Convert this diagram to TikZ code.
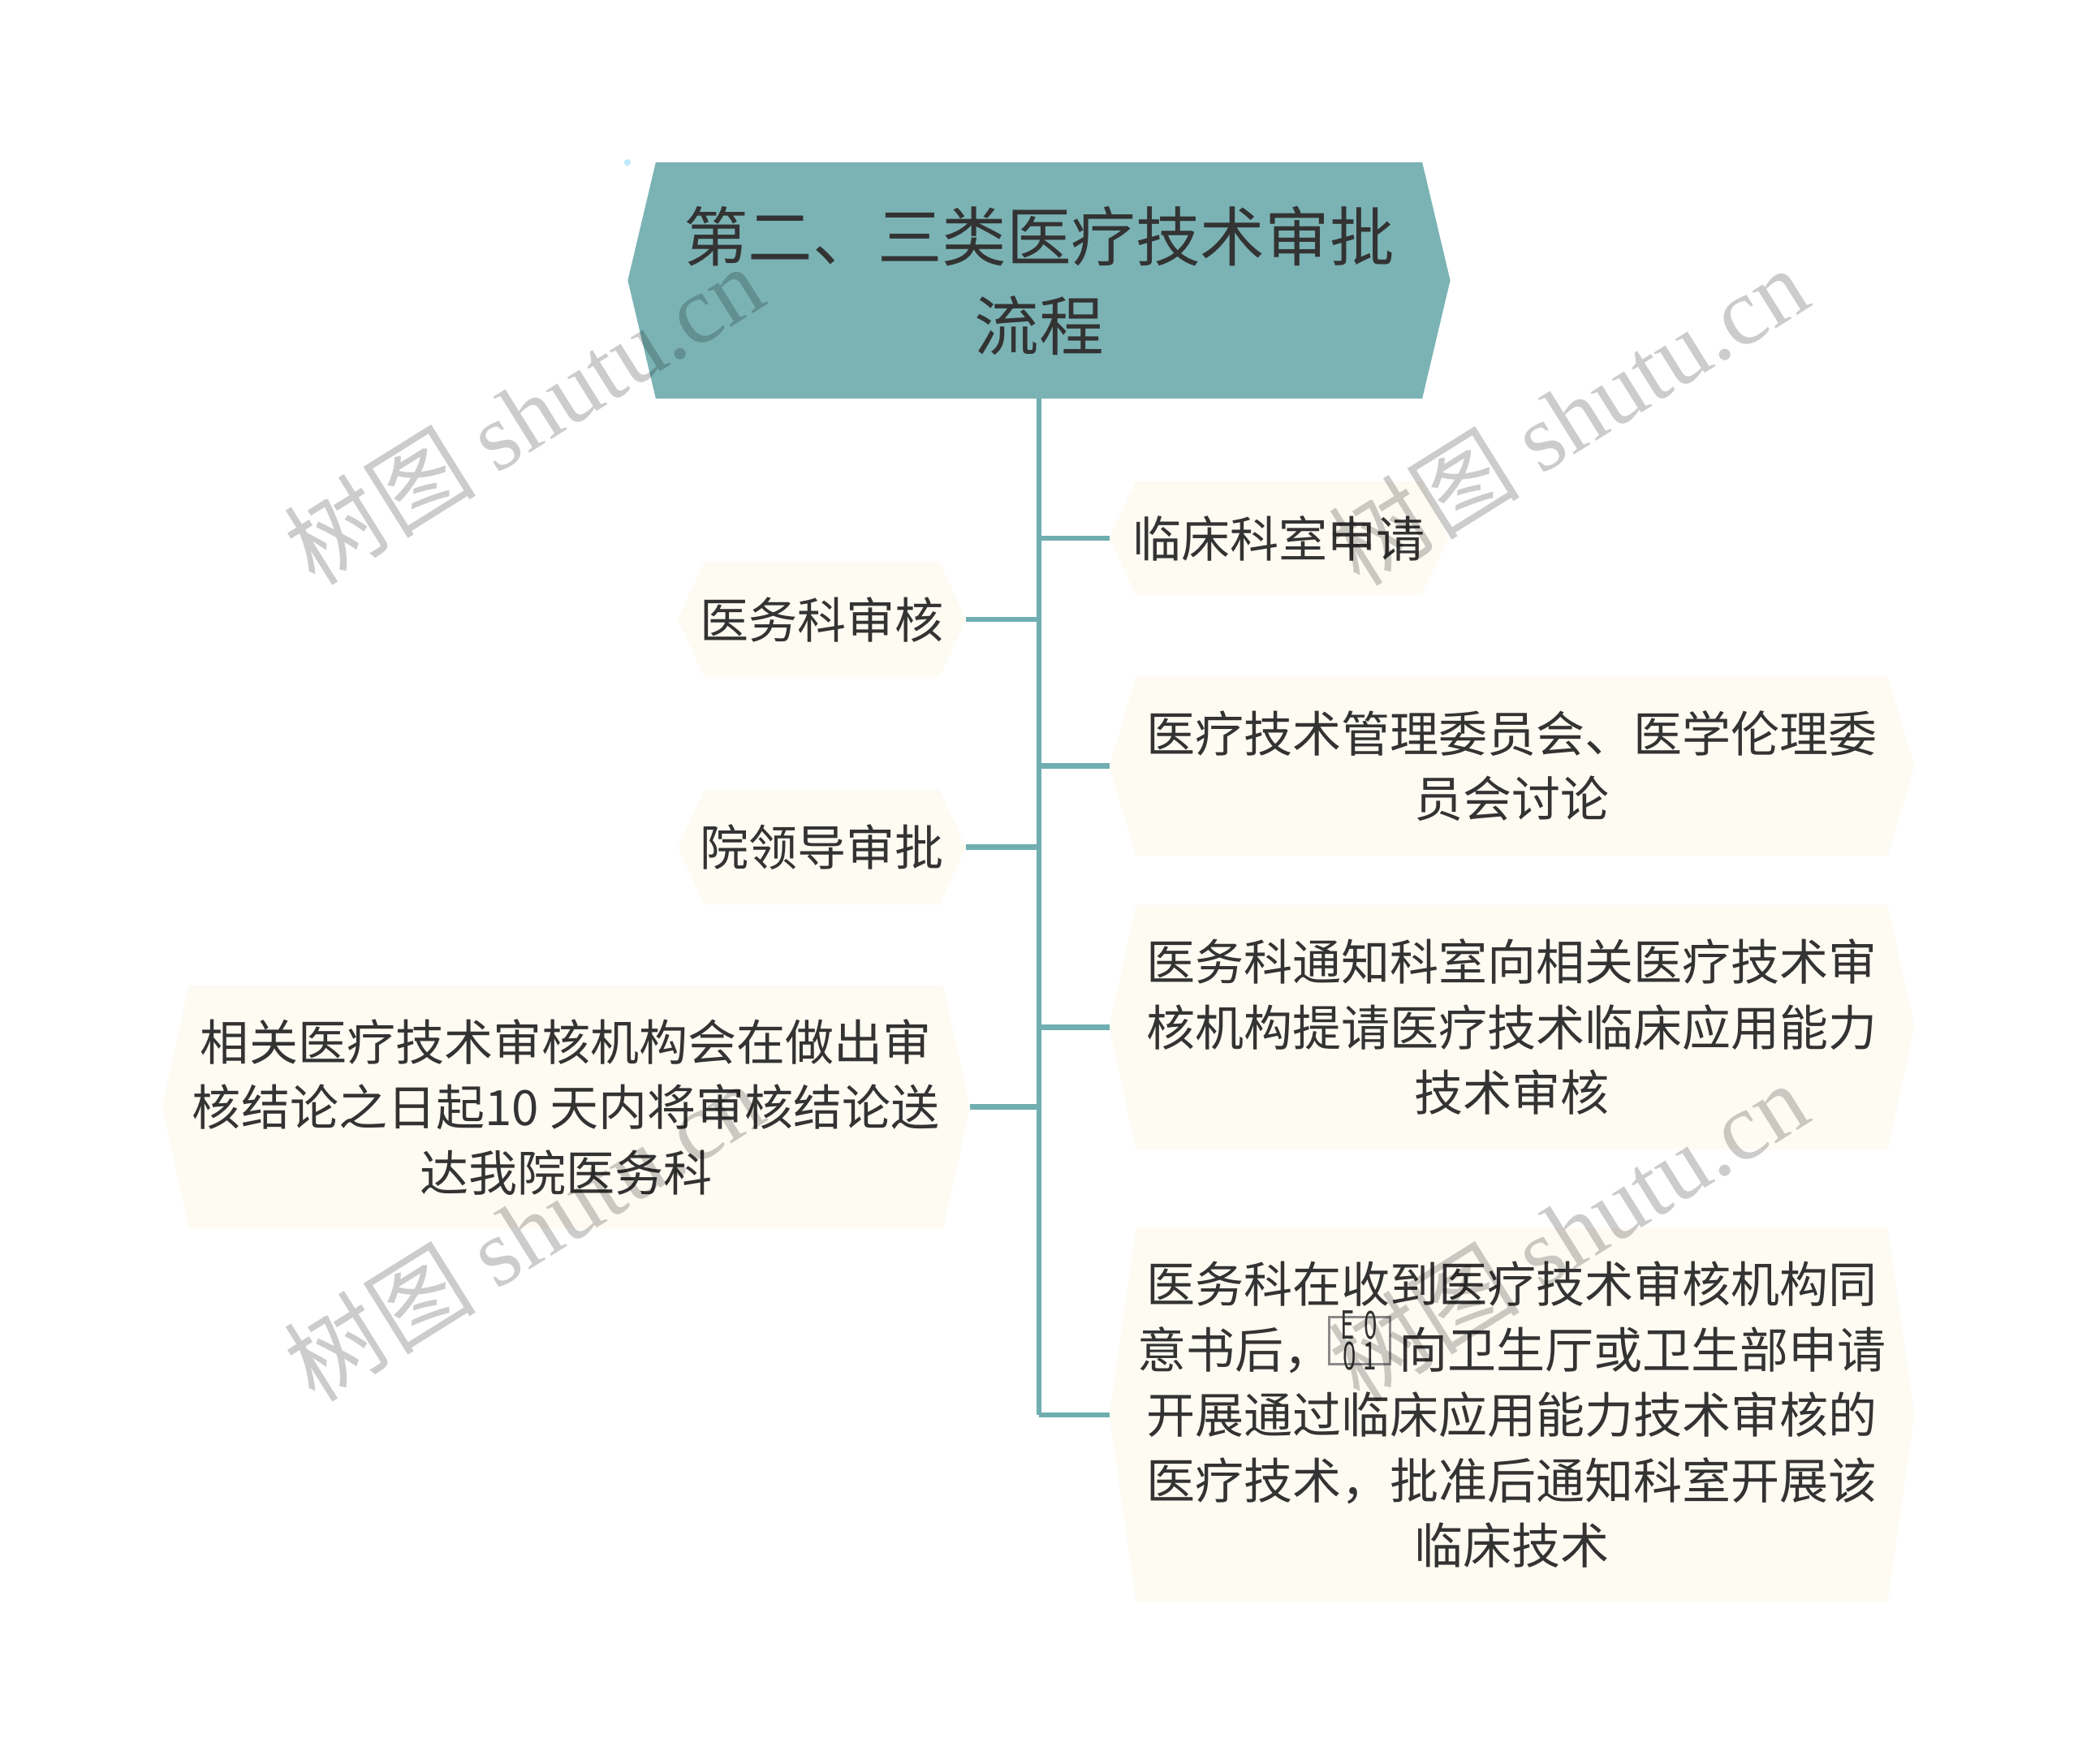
\documentclass[tikz,border=0pt]{standalone}
\usepackage{fontspec}
\usepackage{graphicx}
\setmainfont{Noto Sans CJK SC}
\newfontfamily\wmlatin{Liberation Serif}
\usetikzlibrary{backgrounds,calc}
\definecolor{rootfill}{HTML}{7BB3B5}
\definecolor{linecol}{HTML}{70AEB1}
\definecolor{cream}{HTML}{FDFBF2}
\definecolor{txt}{HTML}{333333}
\definecolor{tofugray}{HTML}{8A8A8A}
\newcommand\hexfill[3]{\fill[#3] (#1.west) -- ($(#1.north west)+(#2,0)$) -- ($(#1.north east)+(-#2,0)$) -- (#1.east) -- ($(#1.south east)+(-#2,0)$) -- ($(#1.south west)+(#2,0)$) -- cycle;}
\newcommand\tofudigit[1]{\fontsize{29}{29}\selectfont\scalebox{0.62}[1]{#1}}
\newcommand\tofubox{{\setlength\unitlength{1pt}\begin{picture}(50,39)
  {\color{tofugray}%
   \put(-3,2){\rule{47pt}{1.8pt}}%
   \put(-3,37.2){\rule{47pt}{1.8pt}}%
   \put(-3,2){\rule{1.8pt}{37pt}}%
   \put(42.2,2){\rule{1.8pt}{37pt}}}%
  \put(6,22){\tofudigit{E}}%
  \put(24,22){\tofudigit{0}}%
  \put(8,-1){\tofudigit{0}}%
  \put(23,-1){\tofudigit{1}}%
\end{picture}}}
\begin{document}
\begin{tikzpicture}[x=1pt,y=-1pt,
  childbox/.style={rectangle, inner sep=0pt, align=center, text=txt, font=\fontsize{36.6}{49}\selectfont},
  rootbox/.style={rectangle, inner sep=0pt, align=center, text=txt, font=\fontsize{48.5}{67}\selectfont},
  conn/.style={draw=linecol, line width=4pt},
  wmark/.style={text=black, text opacity=0.2, rotate=32, inner sep=0pt, font=\fontsize{72}{74}\selectfont}]
\useasboundingbox (0,0) rectangle (1560,1324);

% root
\node[rootbox, minimum width=617, minimum height=177] (root) at (780,210.5) {第二、三类医疗技术审批\\流程};

% right children
\node[childbox, minimum width=254, minimum height=85] (r1) at (960,404) {临床科室申请};
\node[childbox, minimum width=604, minimum height=134] (r2) at (1135,575) {医疗技术管理委员会、医学伦理委\\员会讨论};
\node[childbox, minimum width=604, minimum height=183] (r3) at (1135,771) {医务科通知科室向相关医疗技术审\\核机构提请医疗技术临床应用能力\\技术审核};
\node[childbox, minimum width=604, minimum height=280] (r4) at (1135,1062) {医务科在收到医疗技术审核机构同\\意书后，\tofubox 向卫生厅或卫生部申请\\开展通过临床应用能力技术审核的\\医疗技术，批准后通知科室开展该\\临床技术};

% left children
\node[childbox, minimum width=216, minimum height=86] (l1) at (617,465) {医务科审核};
\node[childbox, minimum width=216, minimum height=86] (l2) at (617,636) {院领导审批};
\node[childbox, minimum width=606, minimum height=182] (l3) at (425,831) {相关医疗技术审核机构会在做出审\\核结论之日起10 天内将审核结论送\\达我院医务科};

\begin{scope}[on background layer]
  \hexfill{root}{21}{rootfill}
  \hexfill{r1}{20}{cream}
  \hexfill{r2}{20}{cream}
  \hexfill{r3}{20}{cream}
  \hexfill{r4}{20}{cream}
  \hexfill{l1}{20}{cream}
  \hexfill{l2}{20}{cream}
  \hexfill{l3}{20}{cream}
\end{scope}

% small dot at the root's corner
\fill[cyan!25] (471,122) circle (2.5);

% trunk and branches
\coordinate (tb) at (root.south |- r4.west);
\draw[conn] (root.south) -- (tb);
\draw[conn] (root.south |- r1.west) -- (r1.west);
\draw[conn] (root.south |- r2.west) -- (r2.west);
\draw[conn] (root.south |- r3.west) -- (r3.west);
\draw[conn] (tb) -- (r4.west);
\draw[conn] (root.south |- l1.east) -- (l1.east);
\draw[conn] (root.south |- l2.east) -- (l2.east);
\draw[conn] (root.south |- l3.east) -- (l3.east);

% watermarks
\node[wmark] (w1) at (393,311) {树图 {\wmlatin shutu.cn}};
\node[wmark] (w2) at (1177,312) {树图 {\wmlatin shutu.cn}};
\node[wmark] (w3) at (393,924) {树图 {\wmlatin shutu.cn}};
\node[wmark] (w4) at (1177,924) {树图 {\wmlatin shutu.cn}};
\end{tikzpicture}
\end{document}
